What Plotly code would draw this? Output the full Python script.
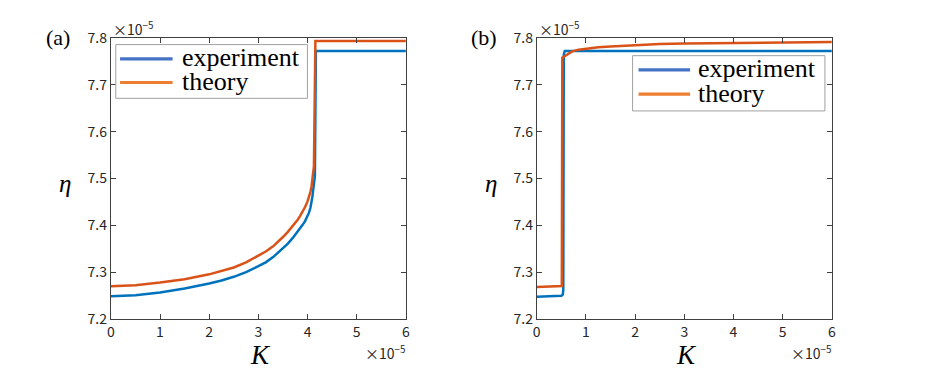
import plotly.graph_objects as go

# ---- data (K in units of 1e-5, eta in units of 1e-5) ----
K_a_exp = [0, 0.5, 1, 1.5, 2, 2.25, 2.5, 2.75, 3, 3.15, 3.3, 3.4, 3.5, 3.6, 3.7, 3.8, 3.85, 3.9,
           3.95, 4.0, 4.03, 4.06, 4.08, 4.1, 4.12, 4.13, 4.15, 4.17, 6]
eta_a_exp = [7.2483, 7.2505, 7.2564, 7.265, 7.2758, 7.282, 7.290, 7.300, 7.3128, 7.321, 7.332, 7.341,
             7.351, 7.361, 7.373, 7.386, 7.393, 7.401, 7.409, 7.419, 7.427, 7.438, 7.448, 7.462,
             7.480, 7.495, 7.505, 7.772, 7.772]

K_a_th = [0, 0.5, 1, 1.5, 2, 2.25, 2.5, 2.75, 3, 3.15, 3.3, 3.4, 3.5, 3.6, 3.7, 3.8, 3.85, 3.9,
          3.95, 4.0, 4.03, 4.06, 4.08, 4.1, 4.12, 4.13, 4.16, 6]
eta_a_th = [7.2698, 7.272, 7.2779, 7.285, 7.2953, 7.302, 7.310, 7.321, 7.335, 7.344, 7.355, 7.364,
            7.375, 7.386, 7.398, 7.412, 7.420, 7.429, 7.439, 7.451, 7.460, 7.472, 7.482, 7.497,
            7.515, 7.526, 7.7935, 7.7935]

K_b_exp = [0, 0.3, 0.5, 0.53, 0.54, 0.55, 0.57, 6]
eta_b_exp = [7.2475, 7.248, 7.2495, 7.252, 7.262, 7.765, 7.772, 7.772]

K_b_th = [0, 0.3, 0.51, 0.52, 0.6, 0.72, 0.85, 1, 1.25, 1.5, 2, 2.5, 3, 4, 5, 6]
eta_b_th = [7.2683, 7.269, 7.2705, 7.758, 7.763, 7.7713, 7.775, 7.7774, 7.780, 7.782, 7.7848,
            7.787, 7.7883, 7.7895, 7.791, 7.7913]

series_names = ["experiment", "theory"]
panel_labels = ["(a)", "(b)"]
x_ticks = [0, 1, 2, 3, 4, 5, 6]
y_ticks = [7.2, 7.3, 7.4, 7.5, 7.6, 7.7, 7.8]

BLUE = "#0072BD"
ORANGE = "#D95319"
LEG_BLUE = "#4472C4"
LEG_ORANGE = "#ED7D31"
W, H = 926, 383
OFF = 8  # page body margin offset

fig = go.Figure()
fig.add_trace(go.Scatter(x=K_a_exp, y=eta_a_exp, mode="lines", line=dict(color=BLUE, width=2.5),
                         name=series_names[0], xaxis="x", yaxis="y", showlegend=False))
fig.add_trace(go.Scatter(x=K_a_th, y=eta_a_th, mode="lines", line=dict(color=ORANGE, width=2.5),
                         name=series_names[1], xaxis="x", yaxis="y", showlegend=False))
fig.add_trace(go.Scatter(x=K_b_exp, y=eta_b_exp, mode="lines", line=dict(color=BLUE, width=2.5),
                         name=series_names[0], xaxis="x2", yaxis="y2", showlegend=False))
fig.add_trace(go.Scatter(x=K_b_th, y=eta_b_th, mode="lines", line=dict(color=ORANGE, width=2.5),
                         name=series_names[1], xaxis="x2", yaxis="y2", showlegend=False))

def px(x):
    return (x - OFF) / W

def py(y):
    return 1 - (y - OFF) / H

tickfont = dict(family="Noto Sans CJK JP, Roboto, sans-serif", size=14, color="#262626")
axis_common = dict(showline=True, linecolor="#404040", linewidth=1, mirror="ticks",
                   ticks="inside", ticklen=5, tickcolor="#404040", tickwidth=1,
                   showgrid=False, zeroline=False, tickfont=tickfont)

ydom = [py(324.5), py(28)]
fig.update_layout(
    width=W, height=H, autosize=False,
    margin=dict(l=0, r=0, t=0, b=0),
    paper_bgcolor="white", plot_bgcolor="white",
    xaxis=dict(domain=[px(107.7), px(405.3)], range=[0, 6], tickvals=x_ticks,
               ticktext=[str(v) for v in x_ticks], anchor="y", **axis_common),
    yaxis=dict(domain=ydom, range=[7.2, 7.8], tickvals=y_ticks,
               ticktext=[f"{v:.1f}" for v in y_ticks], anchor="x", **axis_common),
    xaxis2=dict(domain=[px(537.3), px(835)], range=[0, 6], tickvals=x_ticks,
                ticktext=[str(v) for v in x_ticks], anchor="y2", **axis_common),
    yaxis2=dict(domain=ydom, range=[7.2, 7.8], tickvals=y_ticks,
                ticktext=[f"{v:.1f}" for v in y_ticks], anchor="x2", **axis_common),
    showlegend=False,
)

serif = "Liberation Serif"
annos = []
shapes = []
for i, (x0, x1) in enumerate([(107.7, 405.3), (537.3, 835)]):
    annos.append(dict(x=px(x0 - 53), y=py(28), xref="paper", yref="paper", text=panel_labels[i],
                      showarrow=False, font=dict(family=serif, size=22, color="black"),
                      xanchor="center", yanchor="middle"))
    annos.append(dict(x=px(x0 - 46), y=py(182), xref="paper", yref="paper", text="<i>η</i>",
                      showarrow=False, font=dict(family=serif, size=25, color="black"),
                      xanchor="center", yanchor="middle"))
    annos.append(dict(x=px((x0 + x1) / 2 + 2), y=py(363), xref="paper", yref="paper", text="<i>K</i>",
                      showarrow=False, font=dict(family=serif, size=27, color="black"),
                      xanchor="center", yanchor="middle"))
    annos.append(dict(x=px(x0), y=py(18), xref="paper", yref="paper", text="×10<sup>−5</sup>",
                      showarrow=False, font=dict(family="Noto Sans CJK JP, sans-serif", size=14, color="#262626"),
                      xanchor="left", yanchor="middle"))
    annos.append(dict(x=px(x1 + 1), y=py(360), xref="paper", yref="paper", text="×10<sup>−5</sup>",
                      showarrow=False, font=dict(family="Noto Sans CJK JP, sans-serif", size=14, color="#262626"),
                      xanchor="right", yanchor="middle"))

legends = [dict(box=(112.7, 35, 306, 91.7), lx=(117, 170), ly=(50, 75), tx=177),
           dict(box=(634, 46.7, 828, 105), lx=(640, 692), ly=(61.7, 87.3), tx=698)]
for lg in legends:
    bx0, by0, bx1, by1 = lg["box"]
    shapes.append(dict(type="rect", xref="paper", yref="paper", x0=px(bx0), x1=px(bx1),
                       y0=py(by1), y1=py(by0), line=dict(color="#A0A0A0", width=1),
                       fillcolor="white", layer="above"))
    for j, col in enumerate([LEG_BLUE, LEG_ORANGE]):
        shapes.append(dict(type="line", xref="paper", yref="paper", x0=px(lg["lx"][0]), x1=px(lg["lx"][1]),
                           y0=py(lg["ly"][j]), y1=py(lg["ly"][j]), line=dict(color=col, width=3.2),
                           layer="above"))
        annos.append(dict(x=px(lg["tx"]), y=py(lg["ly"][j] - 1), xref="paper", yref="paper",
                          text=series_names[j], showarrow=False,
                          font=dict(family=serif, size=26, color="black"),
                          xanchor="left", yanchor="middle"))

fig.update_layout(annotations=annos, shapes=shapes)
fig.write_html("out.html")
